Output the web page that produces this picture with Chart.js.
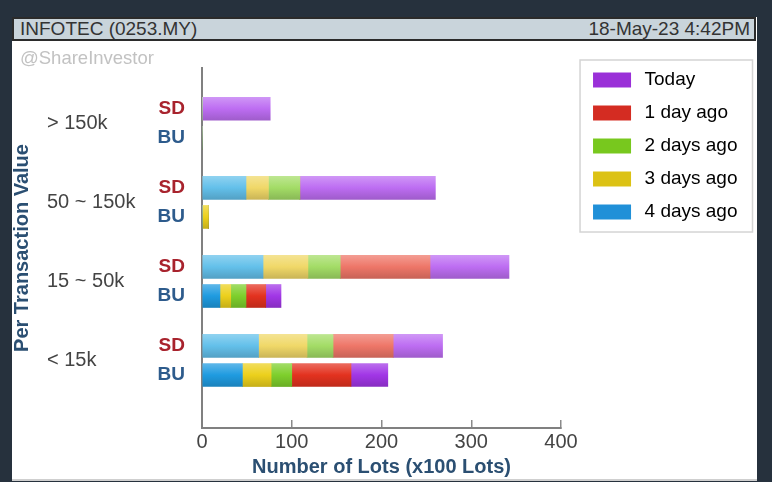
<!DOCTYPE html>
<html><head><meta charset="utf-8">
<script src="https://cdn.jsdelivr.net/npm/chart.js@4"></script>
<style>
html,body{margin:0;padding:0;background:#26313d;width:772px;height:482px;overflow:hidden;font-family:'Liberation Sans',Arial,sans-serif;}
#panel{position:absolute;left:12px;top:17px;width:745px;height:462px;background:#fff;border-bottom:2px solid #cfcfcf;}
#bar{position:absolute;left:12px;top:17px;width:740px;height:20px;background:#c9d4db;border:2px solid #2b2b2b;color:#333;font-size:19px;line-height:20px;}
#bar .l{position:absolute;left:6px;top:0;}
#bar .r{position:absolute;right:4px;top:0;}
#wm{position:absolute;left:20px;top:47px;font-size:18.5px;color:#c2c2c2;z-index:2;}
#c{position:absolute;left:12px;top:41px;}
</style></head>
<body>
<div id="panel"></div>
<div id="bar"><span class="l">INFOTEC (0253.MY)</span><span class="r">18-May-23 4:42PM</span></div>
<div id="wm">@ShareInvestor</div>
<canvas id="c" width="745" height="438"></canvas>
<script>
// ---- data ----
const groups = ['> 150k', '50 ~ 150k', '15 ~ 50k', '< 15k'];
const sides = ['SD', 'BU'];
const seriesNames = ['4 days ago', '3 days ago', '2 days ago', '1 day ago', 'Today'];
const fourDaysSD  = [0, 49, 68, 63];
const fourDaysBU  = [0, 0, 20, 45];
const threeDaysSD = [0, 25, 50, 54];
const threeDaysBU = [0, 7, 12, 32];
const twoDaysSD   = [0, 35, 36, 29];
const twoDaysBU   = [0, 0, 17, 23];
const oneDaySD    = [0, 0, 100, 67];
const oneDayBU    = [0, 0, 22, 66];
const todaySD     = [76, 151, 88, 55];
const todayBU     = [0, 0, 17, 41];
const xTicks = [0, 100, 200, 300, 400];

// ---- styles ----
const colBU = ['#1f9be0', '#ecd01c', '#7ecf2c', '#e3321f', '#a136e6'];
const colSD = ['#63c0ea', '#f0d868', '#a3dc66', '#ee7668', '#bd6df2'];
const colLegend = ['#2090d8', '#dcc214', '#78c81e', '#d42c22', '#9a30d8'];
const PAIR = 0.184;
const Y_MIN = -0.70, Y_MAX = 3.854;
const BAR_T = 23;

function mix(hex, t, target) {
  const n = parseInt(hex.slice(1), 16);
  const r = (n >> 16) & 255, g = (n >> 8) & 255, b = n & 255;
  const f = v => Math.round(v + (target - v) * t);
  return `rgb(${f(r)},${f(g)},${f(b)})`;
}
function barFill(si) {
  return (ctx) => {
    const base = (ctx.dataIndex % 2 === 0) ? colSD[si] : colBU[si];
    if (ctx.type !== 'data') return base;
    const ch = ctx.chart, ys = ch.scales.y;
    if (!ys || !ch.chartArea) return base;
    const yc = ys.getPixelForValue(ctx.raw.y);
    const h = BAR_T / 2;
    const g = ch.ctx.createLinearGradient(0, yc - h, 0, yc + h);
    g.addColorStop(0, mix(base, 0.28, 255));
    g.addColorStop(0.5, base);
    g.addColorStop(1, mix(base, 0.16, 0));
    return g;
  };
}
function rows(sd, bu) {
  const out = [];
  groups.forEach((g, i) => {
    out.push({ y: i - PAIR, x: sd[i] });
    out.push({ y: i + PAIR, x: bu[i] });
  });
  return out;
}
const seriesData = [
  rows(fourDaysSD, fourDaysBU),
  rows(threeDaysSD, threeDaysBU),
  rows(twoDaysSD, twoDaysBU),
  rows(oneDaySD, oneDayBU),
  rows(todaySD, todayBU)
];

const legendFrame = {
  id: 'legendFrame',
  afterDraw(chart) {
    const lg = chart.legend;
    if (!lg || !lg.legendHitBoxes || !lg.legendHitBoxes.length) return;
    const hb = lg.legendHitBoxes;
    const l = Math.min(...hb.map(h => h.left)) - 9;
    const t = Math.min(...hb.map(h => h.top)) - 8.5;
    const r = Math.max(...hb.map(h => h.left + h.width)) + 15;
    const b = Math.max(...hb.map(h => h.top + h.height)) + 8.5;
    const c = chart.ctx;
    c.save();
    c.strokeStyle = '#d4d4d4';
    c.lineWidth = 1.5;
    c.strokeRect(l, t, r - l, b - t);
    c.restore();
  }
};

Chart.defaults.font.family = "'Liberation Sans', Arial, sans-serif";

const yCommon = { type: 'linear', reverse: true, min: Y_MIN, max: Y_MAX, bounds: 'data', offset: false, grace: 0 };
const fitY = w => s => { s.width = w; s.paddingTop = 0; s.paddingBottom = 0; };

new Chart(document.getElementById('c'), {
  type: 'bar',
  data: {
    datasets: seriesNames.map((name, si) => ({
      label: name,
      data: seriesData[si],
      xAxisID: 'x',
      yAxisID: 'y',
      backgroundColor: barFill(si),
      borderWidth: 0,
      barThickness: BAR_T
    }))
  },
  options: {
    indexAxis: 'y',
    responsive: false,
    animation: false,
    layout: { padding: { top: 17.5, right: 9.5, bottom: 0, left: 0 } },
    plugins: {
      tooltip: { enabled: false },
      legend: {
        position: 'right',
        align: 'start',
        reverse: true,
        maxWidth: 260,
        labels: {
          boxWidth: 46,
          boxHeight: 23,
          padding: 10,
          color: '#444',
          font: { size: 19 },
          generateLabels: (chart) => chart.data.datasets.map((ds, i) => ({
            text: ds.label,
            fillStyle: colLegend[i],
            strokeStyle: '#ffffff',
            lineWidth: 8,
            hidden: false,
            datasetIndex: i
          }))
        }
      }
    },
    scales: {
      x: {
        type: 'linear', position: 'bottom', stacked: true, min: 0, max: 400,
        afterBuildTicks: s => { s.ticks = xTicks.map(v => ({ value: v })); },
        ticks: { color: '#444', font: { size: 20 }, padding: 10, maxRotation: 0, autoSkip: false },
        grid: { display: true, drawOnChartArea: false, drawTicks: true, tickLength: -8, color: '#8a8a8a', lineWidth: 1.5 },
        border: { display: true, color: '#808080', width: 2 },
        title: { display: true, text: 'Number of Lots (x100 Lots)', color: '#2b4f72', font: { size: 20, weight: 'bold' }, padding: { top: 0, bottom: 0 } },
        afterFit: s => { s.height = 51; }
      },
      xTop: {
        axis: 'x', type: 'linear', position: 'top',
        ticks: { display: false }, grid: { display: false }, border: { display: false },
        afterFit: s => { s.height = 9.5; s.paddingLeft = 0; s.paddingRight = 0; }
      },
      y: Object.assign({}, yCommon, {
        position: 'left', stacked: true, weight: 1,
        afterBuildTicks: s => {
          const t = [];
          groups.forEach((g, i) => { t.push({ value: i - PAIR }); t.push({ value: i + PAIR }); });
          s.ticks = t;
        },
        ticks: {
          callback: (v, i) => sides[i % 2],
          color: c => (c.index % 2 === 0 ? '#a8232d' : '#2d5b8c'),
          font: { size: 19, weight: 'bold' },
          padding: 17, autoSkip: false, crossAlign: 'near'
        },
        grid: { display: false, drawTicks: false, offset: false },
        border: { display: true, color: '#808080', width: 2 },
        afterFit: fitY(44)
      }),
      yGroup: Object.assign({}, yCommon, {
        axis: 'y', position: 'left', weight: 2,
        afterBuildTicks: s => { s.ticks = groups.map((g, i) => ({ value: i })); },
        ticks: {
          callback: (v, i) => groups[i],
          color: '#444', font: { size: 20 }, autoSkip: false, crossAlign: 'far', padding: 0
        },
        grid: { display: false, drawTicks: false },
        border: { display: false },
        afterFit: fitY(111)
      }),
      yTitle: Object.assign({}, yCommon, {
        axis: 'y', position: 'left', weight: 3,
        ticks: { display: false },
        grid: { display: false, drawTicks: false },
        border: { display: false },
        title: { display: true, text: 'Per Transaction Value', color: '#2b4f72', font: { size: 20, weight: 'bold', lineHeight: 1 }, padding: { top: 0, bottom: 0 } },
        afterFit: fitY(35)
      }),
      yRight: Object.assign({}, yCommon, {
        axis: 'y', position: 'right',
        ticks: { display: false }, grid: { display: false, drawTicks: false }, border: { display: false },
        afterFit: fitY(18)
      })
    }
  },
  plugins: [legendFrame]
});
</script>
</body></html>
